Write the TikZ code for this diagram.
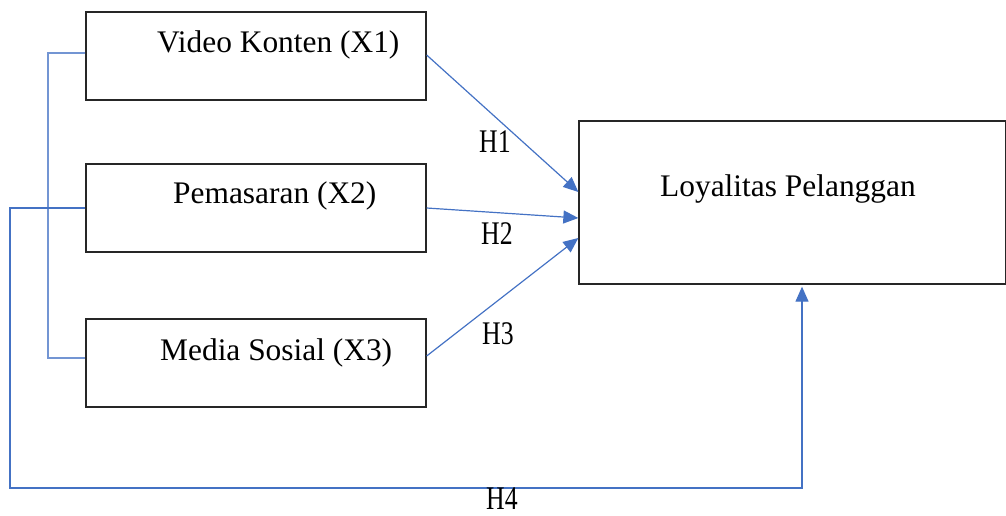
\documentclass[tikz,border=0pt]{standalone}
\usepackage{fontspec}
\setmainfont{Liberation Serif}
\usetikzlibrary{arrows.meta}
\definecolor{lineblue}{HTML}{4472C4}
\tikzset{
  box/.style={draw=black!85, line width=1.3pt, inner sep=0pt, minimum width=340pt, minimum height=88pt},
  bigbox/.style={draw=black!85, line width=1.3pt, inner sep=0pt, minimum width=427pt, minimum height=163pt},
  txt/.style={inner sep=0pt, anchor=base west, font=\fontsize{31.4}{38}\selectfont},
  hlab/.style={inner sep=0pt, anchor=base west, font=\fontsize{33}{38}\selectfont},
  conn/.style={draw=lineblue, line width=1.2pt},
  arr/.style={conn, -{Triangle[length=15pt,width=13pt]}},
}
\newcommand{\hl}[1]{\scalebox{0.78}[1]{#1}}
\begin{document}
\begin{tikzpicture}[x=1pt,y=-1pt]
\useasboundingbox (0,0) rectangle (1006,515);
\node[box] (x1) at (256,56) {};
\node[box] (x2) at (256,208) {};
\node[box] (x3) at (256,363) {};
\node[bigbox] (y) at (792.5,202.5) {};
\node[txt] (t1) at (157,52.7) {Video Konten (X1)};
\node[txt] (t2) at (173,203.7) {Pemasaran (X2)};
\node[txt] (t3) at (160,360.7) {Media Sosial (X3)};
\node[txt] (ty) at (660,196.7) {Loyalitas Pelanggan};
% bracket
\coordinate (bx) at (48,200);
\draw[conn, draw=lineblue!75] ([yshift=3pt]x1.west) -| (bx) |- ([yshift=5pt]x3.west);
% H1-H3
\draw[arr] ([yshift=1pt]x1.east) -- ([yshift=10.5pt]y.west);
\draw[arr] (x2.east) -- ([yshift=-15.5pt]y.west);
\draw[arr] ([yshift=7pt]x3.east) -- ([yshift=-35.5pt]y.west);
% H4
\coordinate (lb) at (10,488);
\draw[arr] (x2.west) -| (lb) -| ([xshift=9.5pt,yshift=-2pt]y.south);
% labels
\node[hlab] (h1) at (479,152) {\hl{H1}};
\node[hlab] (h2) at (481,244) {\hl{H2}};
\node[hlab] (h3) at (482,344) {\hl{H3}};
\node[hlab] (h4) at (486,509) {\hl{H4}};
\end{tikzpicture}
\end{document}
